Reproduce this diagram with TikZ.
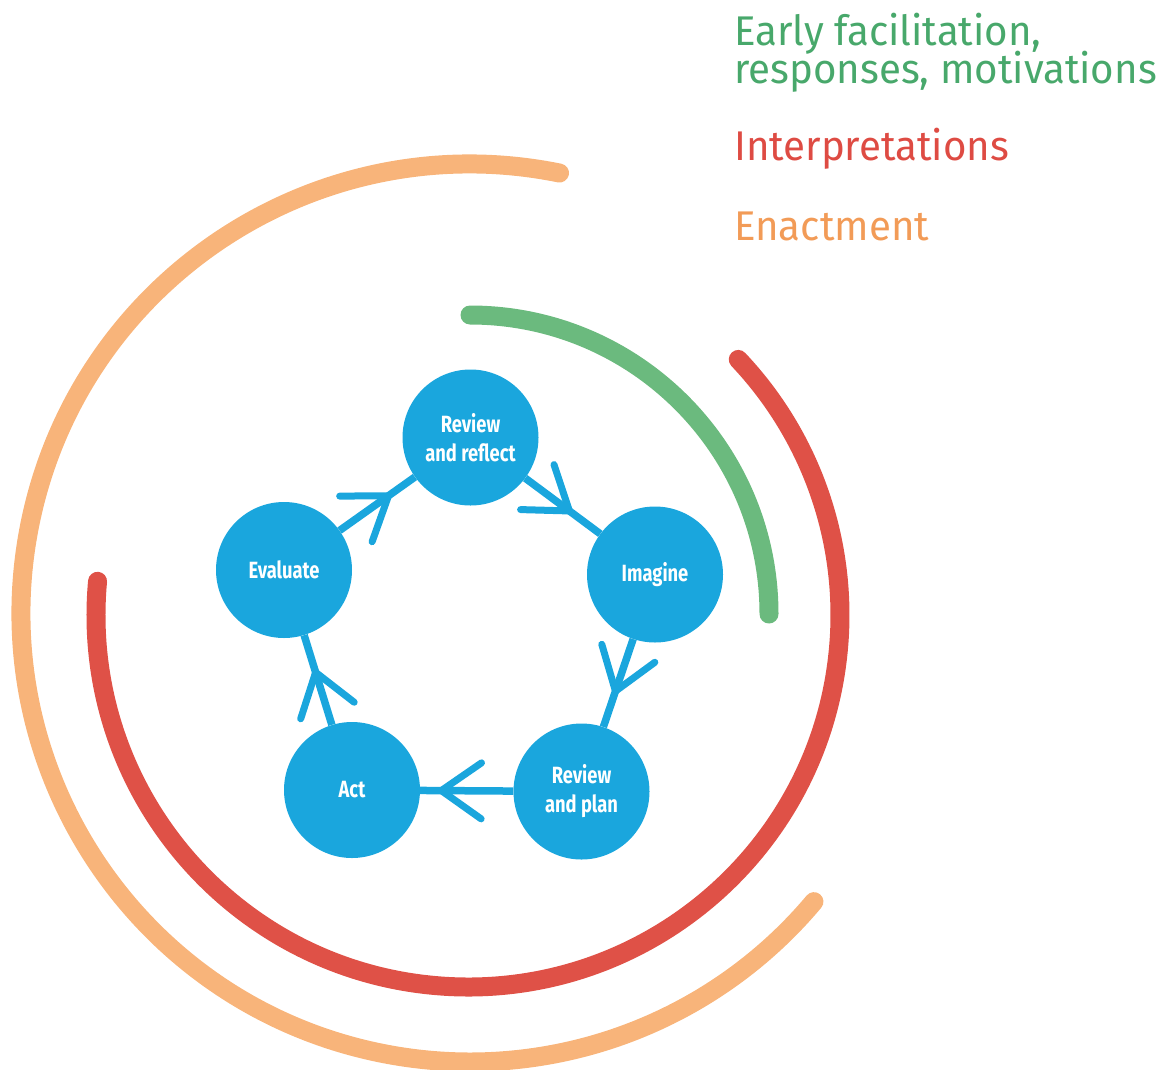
\documentclass[tikz,border=0pt]{standalone}
\usepackage{fontspec}
\setmainfont{Fira Sans}
\newfontfamily\legendfont[FakeStretch=0.97]{Fira Sans}
\newfontfamily\labelfont[FakeStretch=0.78]{Fira Sans}
\usetikzlibrary{decorations.markings}
\definecolor{cblue}{RGB}{26,166,221}
\definecolor{greenarc}{RGB}{107,186,126}
\definecolor{greentext}{RGB}{72,168,107}
\definecolor{redarc}{RGB}{223,81,71}
\definecolor{redtext}{RGB}{222,75,67}
\definecolor{orangearc}{RGB}{248,180,122}
\definecolor{orangetext}{RGB}{242,155,87}
\begin{document}
\begin{tikzpicture}[x=1pt,y=1pt,
  stage/.style={circle, fill=cblue, minimum size=136pt, inner sep=0pt,
    text=white, align=center,
    font=\labelfont\bfseries\fontsize{23.5}{29}\selectfont},
  flow/.style={draw=cblue, line width=7.5pt, postaction={decorate},
    decoration={markings, mark=at position #1 with {
      \draw[cblue, line width=7pt, line cap=round, line join=round]
        (-40pt,28pt) -- (0,0) -- (-40pt,-28pt);}}},
  band/.style={line width=19pt, line cap=round},
  legend/.style={anchor=base west, inner sep=0pt,
    font=\legendfont\fontsize{41.5}{37}\selectfont}]
\useasboundingbox (0,0) rectangle (1170,-1069);

% outer arcs
\draw[band, orangearc] (470,-613) ++(78.5:449) arc[start angle=78.5, end angle=320, radius=449];
\draw[band, redarc] (468,-615) ++(174.8:372) arc[start angle=174.8, end angle=403.4, radius=372];
\draw[band, greenarc] (470,-614) ++(90:299) arc[start angle=90, end angle=0, radius=299];

% stages
\node[stage] (rr) at (470.5,-437.5) {Review\\and reflect};
\node[stage] (im) at (655,-574.5) {Imagine};
\node[stage] (rp) at (581.5,-791.5) {Review\\and plan};
\node[stage] (act) at (352,-790) {Act};
\node[stage] (ev) at (284,-570) {Evaluate};

% cycle
\draw[flow=55pt] (rr) -- (im);
\draw[flow=55pt] (im) -- (rp);
\draw[flow=72pt] (rp) -- (act);
\draw[flow=55pt] (act) -- (ev);
\draw[flow=60pt] (ev) -- (rr);

% legend
\node[legend, text=greentext] (l1) at (734,-83)
  {\rlap{\raisebox{38pt}{Early facilitation,}}responses, motivations};
\node[legend, text=redtext] (l3) at (734,-160) {Interpretations};
\node[legend, text=orangetext] (l4) at (734,-240) {Enactment};
\end{tikzpicture}
\end{document}
